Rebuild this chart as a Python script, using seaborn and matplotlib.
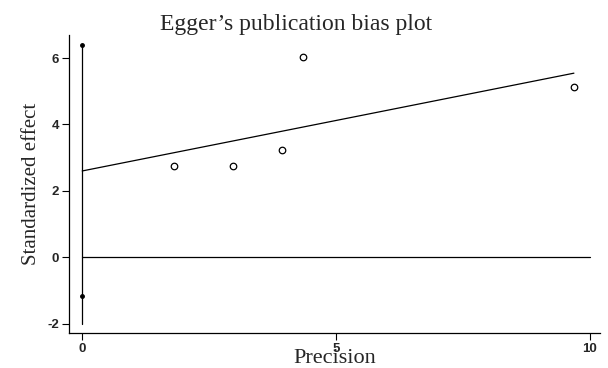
"""Egger's publication bias plot"""

import numpy as np
import pandas as pd
import matplotlib
matplotlib.use('Agg')
import matplotlib.pyplot as plt
import seaborn as sns

# данные
precision = [1.80, 2.97, 3.93, 4.36, 9.69]
std_effect = [2.76, 2.75, 3.24, 6.02, 5.12]

egger_intercept = 2.60
egger_slope = 0.304
ci_low, ci_high = -1.16, 6.40
ci_line_bottom = -2.0

xticks = [0, 5, 10]
yticks = [-2, 0, 2, 4, 6]

df = pd.DataFrame({'precision': precision, 'effect': std_effect})
fit_x = np.array([0, max(precision)])
fit_df = pd.DataFrame({'precision': fit_x, 'effect': egger_intercept + egger_slope * fit_x})

sns.set_style('ticks')
plt.rcParams['axes.unicode_minus'] = False
serif = ['Liberation Serif', 'DejaVu Serif']
sans = ['Liberation Sans', 'DejaVu Sans']

fig = plt.figure(figsize=(6.08, 3.68), dpi=100)
ax = fig.add_axes([0.1135, 0.0943, 0.873, 0.811])

# нулевая линия и доверительный интервал для intercept
ax.plot([0, 10], [0, 0], color='black', lw=0.9)
ax.plot([0, 0], [ci_line_bottom, ci_high], color='black', lw=0.9)
ax.plot([0, 0], [ci_low, ci_high], ls='none', marker='o', ms=2.5, color='black')

sns.lineplot(data=fit_df, x='precision', y='effect', color='black', lw=0.9, ax=ax)
sns.scatterplot(data=df, x='precision', y='effect', marker='o', s=22,
                facecolor='white', edgecolor='black', linewidth=0.9, ax=ax)

ax.set_xlim(-0.26, 10.2)
ax.set_ylim(-2.29, 6.70)
ax.set_xticks(xticks)
ax.set_yticks(yticks)
for lab in ax.get_xticklabels() + ax.get_yticklabels():
    lab.set_family(sans)
    lab.set_fontweight('bold')
    lab.set_fontsize(9.5)
ax.tick_params(length=5, width=0.8, color='black', pad=2)

ax.set_xlabel('Precision', family=serif, fontsize=16, labelpad=-4)
ax.set_ylabel('Standardized effect', family=serif, fontsize=15, labelpad=5)
ax.set_title("Egger\u2019s publication bias plot", family=serif, fontsize=17, pad=3, x=0.427)

sns.despine(ax=ax)
for sp in ax.spines.values():
    sp.set_linewidth(0.9)
    sp.set_color('black')

fig.savefig('out.png', dpi=100)
plt.close(fig)
